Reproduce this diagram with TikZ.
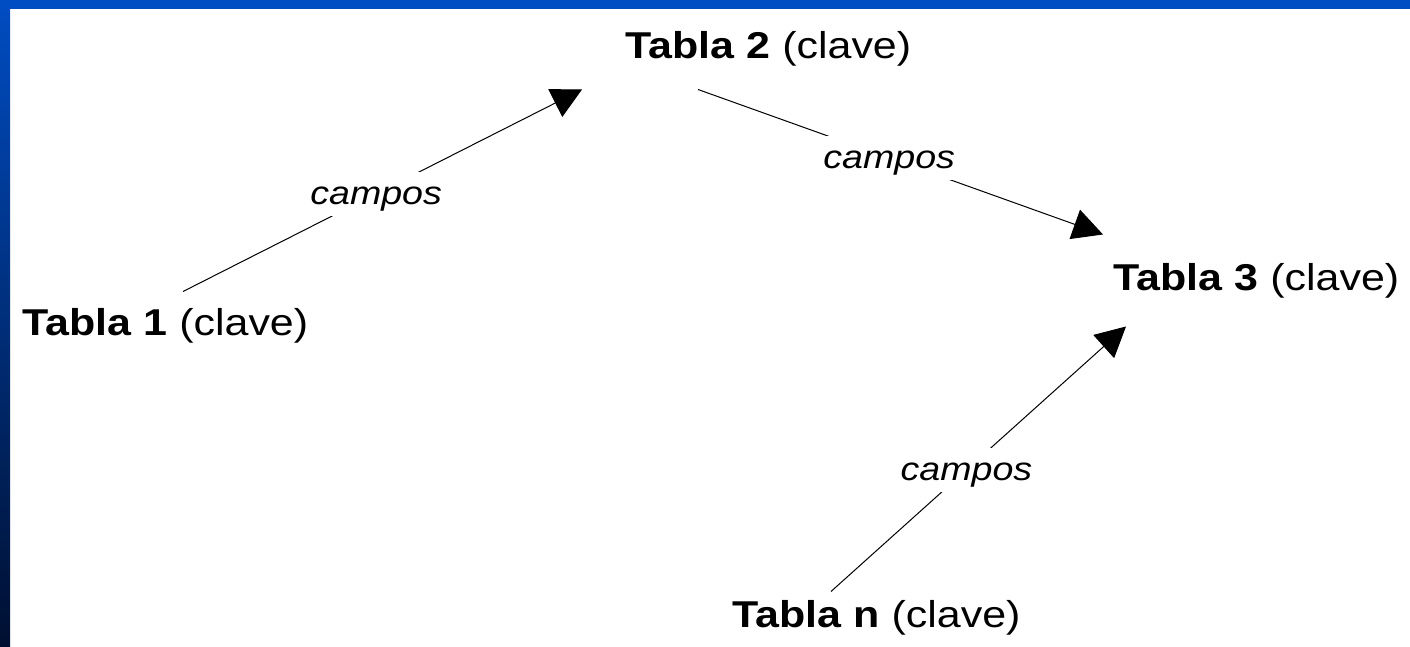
\documentclass[tikz,border=0pt]{standalone}
\usepackage{fontspec}
\setmainfont{Liberation Sans}[FakeStretch=1.15]
\usetikzlibrary{calc}
\usetikzlibrary{arrows.meta}
\usetikzlibrary{shapes}

\tikzset{
    tabla/.style={inner sep=0pt,anchor=base west,text height=26bp,text depth=8bp,font=\fontsize{37.5}{41}\selectfont},
    campo/.style={fill=white,inner xsep=3bp,inner ysep=4bp,text height=29bp,text depth=7bp,font=\fontsize{32.8}{36}\selectfont\itshape},
}

\begin{document}
\begin{tikzpicture}[>={Triangle[length=30bp,width=31bp]},line join=bevel]
    \pgfsetlinewidth{1bp}
    \useasboundingbox (0bp,0bp) rectangle (1410bp,647bp);
    %%
    \begin{scope}
        \definecolor{bartop}{rgb}{0.0,0.30,0.76};
        \definecolor{barbot}{rgb}{0.0,0.06,0.19};
        \shade [top color=bartop,bottom color=barbot] (0bp,0bp) rectangle (10bp,647bp);
        \fill [bartop] (0bp,638bp) rectangle (1410bp,647bp);
    \end{scope}
    \pgfsetcolor{black}
    % Node: tabla1
    \node [tabla] (tabla1) at (22.0bp,311.0bp) {\textbf{Tabla 1} (clave)};
    % Node: tabla2
    \node [tabla] (tabla2) at (625.0bp,588.0bp) {\textbf{Tabla 2} (clave)};
    % Node: tabla3
    \node [tabla] (tabla3) at (1113.0bp,356.0bp) {\textbf{Tabla 3} (clave)};
    % Node: tablan
    \node [tabla] (tablan) at (732.0bp,20.0bp) {\textbf{Tabla n} (clave)};
    % Edge: tabla1 -> tabla2
    \draw [->] ([xshift=161bp,yshift=18bp]tabla1.north west) -- node [campo,pos=0.484] (campo1) {campos} ([xshift=-43bp,yshift=-22bp]tabla2.south west);
    % Edge: tabla2 -> tabla3
    \draw [->] ([xshift=73bp,yshift=-22bp]tabla2.south west) -- node [campo,pos=0.472] (campo2) {campos} ([xshift=-10bp,yshift=30bp]tabla3.north west);
    % Edge: tablan -> tabla3
    \draw [->] ([xshift=99bp,yshift=9bp]tablan.north west) -- node [campo,pos=0.459] (campo3) {campos} ([xshift=13bp,yshift=-27bp]tabla3.south west);
    %
\end{tikzpicture}
\end{document}
